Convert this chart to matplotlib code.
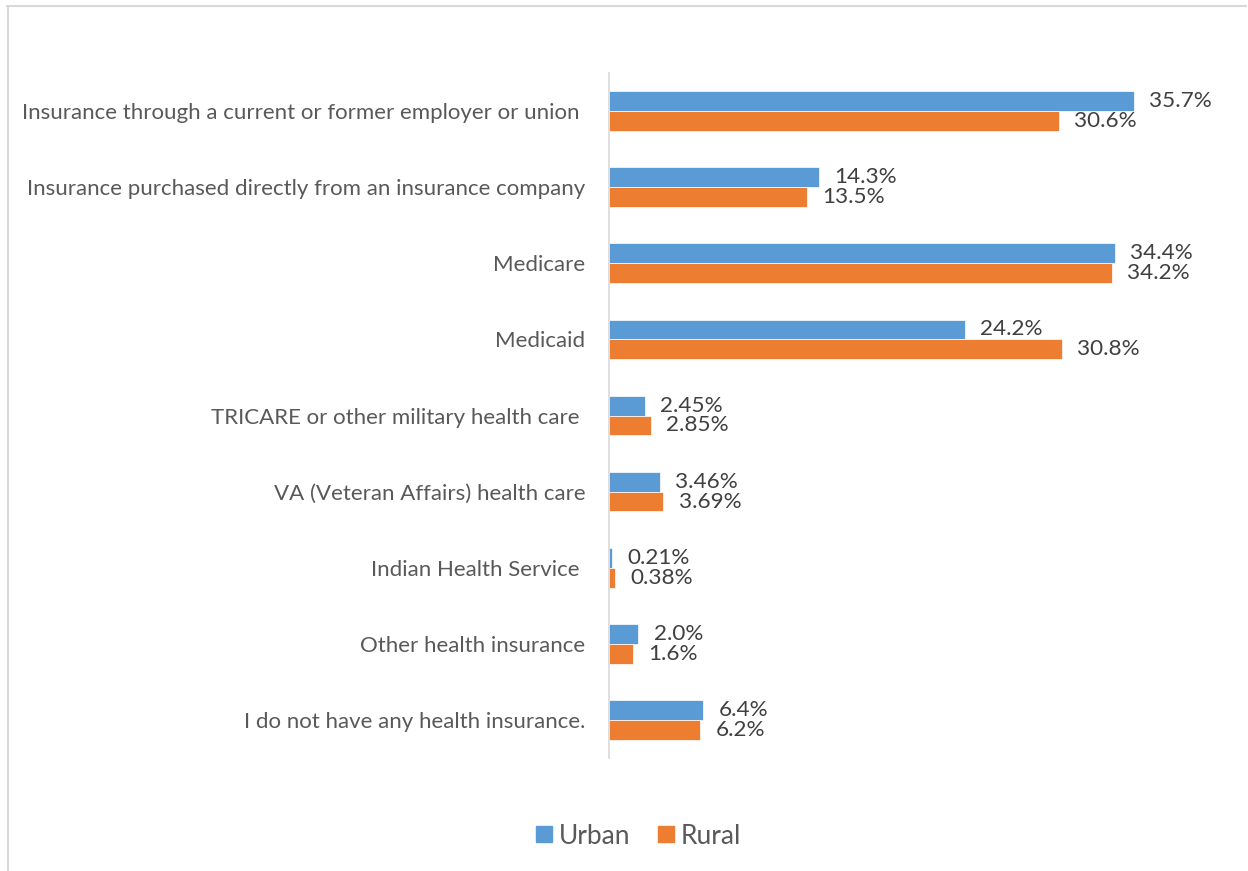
import matplotlib.pyplot as plt
from matplotlib.lines import Line2D

categories = [
    "Insurance through a current or former employer or union ",
    "Insurance purchased directly from an insurance company",
    "Medicare",
    "Medicaid",
    "TRICARE or other military health care ",
    "VA (Veteran Affairs) health care",
    "Indian Health Service ",
    "Other health insurance",
    "I do not have any health insurance.",
]
urban = [35.7, 14.3, 34.4, 24.2, 2.45, 3.46, 0.21, 2.0, 6.4]
rural = [30.6, 13.5, 34.2, 30.8, 2.85, 3.69, 0.38, 1.6, 6.2]
urban_labels = ["35.7%", "14.3%", "34.4%", "24.2%", "2.45%", "3.46%", "0.21%", "2.0%", "6.4%"]
rural_labels = ["30.6%", "13.5%", "34.2%", "30.8%", "2.85%", "3.69%", "0.38%", "1.6%", "6.2%"]

BLUE = "#5B9BD5"
ORANGE = "#ED7D31"
TXT = "#595959"
LBL = "#404040"

plt.rcParams["font.family"] = ["Lato", "DejaVu Sans"]

fig = plt.figure(figsize=(12.48, 8.71), dpi=100)
ax = fig.add_axes([0.488, 0.1297, 0.471, 0.7865])

h = 0.26
ypos = list(range(len(categories)))
yu = [y - h / 2 for y in ypos]
yr = [y + h / 2 for y in ypos]
ax.barh(yu, urban, height=h, color=BLUE, edgecolor="white", linewidth=0.5, label="Urban")
ax.barh(yr, rural, height=h, color=ORANGE, edgecolor="white", linewidth=0.5, label="Rural")

for y, v, s in zip(yu, urban, urban_labels):
    ax.annotate(s, (v, y), xytext=(11, 0), textcoords="offset points",
                ha="left", va="center", fontsize=16.2, color=LBL)
for y, v, s in zip(yr, rural, rural_labels):
    ax.annotate(s, (v, y), xytext=(11, 0), textcoords="offset points",
                ha="left", va="center", fontsize=16.2, color=LBL)

ax.set_xlim(0, 40)
ax.set_ylim(8.5, -0.5)
ax.set_yticks(ypos)
ax.set_yticklabels(categories, fontsize=16.0, color=TXT)
ax.tick_params(axis="y", length=0, pad=17)
ax.set_xticks([])
for side in ["top", "right", "bottom"]:
    ax.spines[side].set_visible(False)
ax.spines["left"].set_color("#D9D9D9")
ax.spines["left"].set_linewidth(1.2)

handles = [Line2D([], [], marker="s", linestyle="", markersize=11, color=BLUE),
           Line2D([], [], marker="s", linestyle="", markersize=11, color=ORANGE)]
fig.legend(handles, ["Urban", "Rural"], loc="center", bbox_to_anchor=(0.510, 0.04),
           ncol=2, frameon=False, fontsize=19, labelcolor=TXT,
           handletextpad=0.1, columnspacing=0.9, handlelength=0.9)

# chart area border (top and left edges visible)
fig.add_artist(Line2D([7 / 1248, 1246 / 1248], [1 - 6 / 871, 1 - 6 / 871],
                      transform=fig.transFigure, color="#D9D9D9", linewidth=1.5))
fig.add_artist(Line2D([7.5 / 1248, 7.5 / 1248], [1 - 6 / 871, 0],
                      transform=fig.transFigure, color="#D9D9D9", linewidth=1.5))

fig.savefig("out.png", dpi=100, facecolor="white")
